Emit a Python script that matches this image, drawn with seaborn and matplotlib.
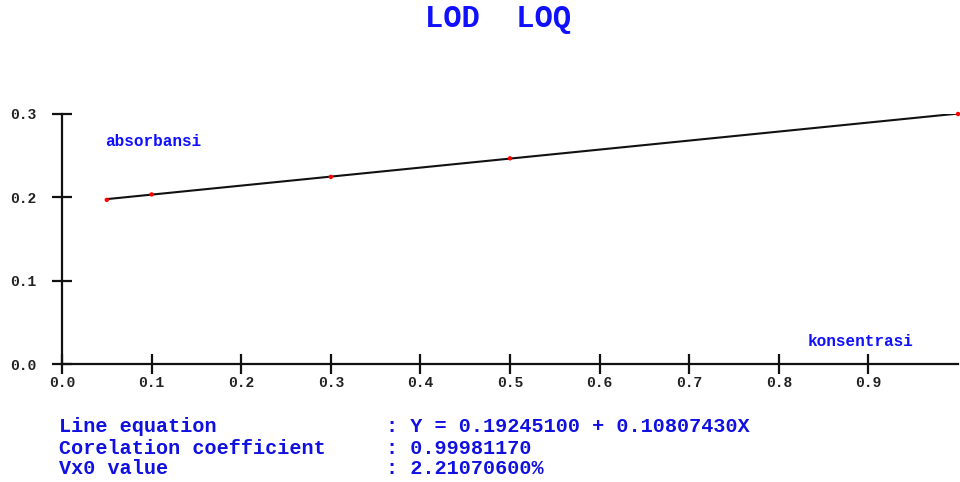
import matplotlib
matplotlib.use("Agg")
import matplotlib.pyplot as plt
import seaborn as sns
import numpy as np
import pandas as pd

# ---- data ----
concentration = [0.05, 0.1, 0.3, 0.5, 1.0]
absorbance = [0.197, 0.2035, 0.2245, 0.2468, 0.300]
intercept = 0.19245100
slope = 0.10807430
x_ticks = [0.0, 0.1, 0.2, 0.3, 0.4, 0.5, 0.6, 0.7, 0.8, 0.9]
y_ticks = [0.0, 0.1, 0.2, 0.3]
title = "LOD  LOQ"
y_label = "absorbansi"
x_label = "konsentrasi"
info_labels = ["Line equation", "Corelation coefficient", "Vx0 value"]
info_values = [": Y = 0.19245100 + 0.10807430X", ": 0.99981170", ": 2.21070600%"]

sns.set_theme(style="white")
plt.rcParams['font.family'] = ['Liberation Mono', 'DejaVu Sans Mono']

BLUE = "#1010ff"
fig = plt.figure(figsize=(9.6, 4.82), dpi=100)
ax = fig.add_axes([62/960, 118/482, (958-62)/960, (364-114)/482])

df_pts = pd.DataFrame({"x": concentration, "y": absorbance})
xl = np.array([min(concentration), max(concentration)])
df_line = pd.DataFrame({"x": xl, "y": intercept + slope * xl})

sns.lineplot(data=df_line, x="x", y="y", ax=ax, color="#111111", linewidth=1.5)
sns.scatterplot(data=df_pts, x="x", y="y", ax=ax, color="red", s=10,
                edgecolor="none", zorder=5, clip_on=False)

ax.set_xlim(0, 1.0)
ax.set_ylim(0, 0.3)
ax.set_xticks(x_ticks)
ax.set_yticks(y_ticks)
ax.set_xticklabels([f"{v:.1f}" for v in x_ticks])
ax.set_yticklabels([f"{v:.1f}" for v in y_ticks])
ax.set_xlabel("")
ax.set_ylabel("")
for s in ["top", "right"]:
    ax.spines[s].set_visible(False)
for s in ["left", "bottom"]:
    ax.spines[s].set_color("#111111")
    ax.spines[s].set_linewidth(1.6)
ax.tick_params(axis="both", which="major", bottom=True, left=True,
               direction="inout", length=15, width=1.6, color="#111111",
               labelsize=10.5, labelcolor="#222222")
ax.tick_params(axis="x", pad=1)
ax.tick_params(axis="y", pad=11)
for lab in ax.get_xticklabels() + ax.get_yticklabels():
    lab.set_fontweight("bold")
ax.patch.set_alpha(0)

ax.text(0.048, 0.2664, y_label, color=BLUE, fontsize=11.5, fontweight="bold",
        ha="left", va="center")
ax.text(0.8326, 0.0276, x_label, color=BLUE, fontsize=11.5, fontweight="bold",
        ha="left", va="center")

fig.text(498/960, 1 - 19/482, title, color=BLUE, fontsize=22, fontweight="bold",
         ha="center", va="center")

ys = [427, 448, 469]
for lbl, val, yy in zip(info_labels, info_values, ys):
    fig.text(59/960, 1 - yy/482, lbl, color="#1010e0", fontsize=14.5, fontweight="bold",
             ha="left", va="center")
    fig.text(386/960, 1 - yy/482, val, color="#1010e0", fontsize=14.5, fontweight="bold",
             ha="left", va="center")

fig.savefig("out.png", dpi=100, facecolor="white")
